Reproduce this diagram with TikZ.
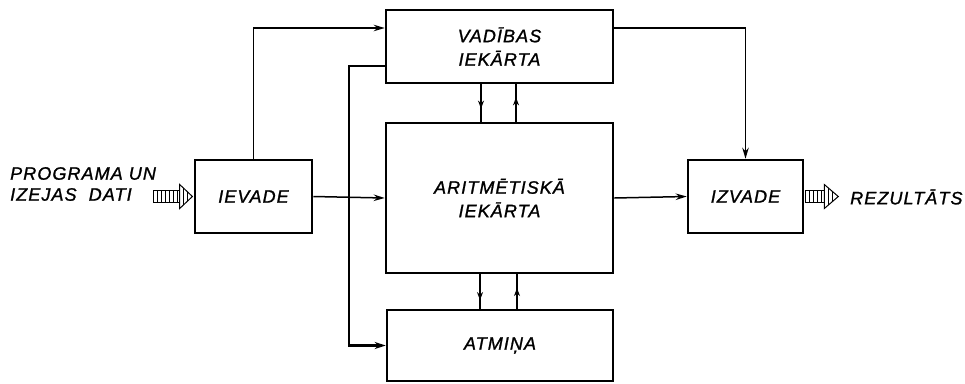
\documentclass[tikz,border=0pt]{standalone}
\usepackage{fontspec}
\newfontfamily\lbl{Liberation Sans}[LetterSpace=6,FakeBold=1.2]
\usetikzlibrary{arrows.meta,decorations.markings}
\begin{document}
\begin{tikzpicture}[x=1pt,y=-1pt,
  blk/.style={draw,line width=2.6pt,inner sep=0pt,align=center,
     font=\fontsize{18}{23.5}\selectfont\lbl\itshape},
  lbltext/.style={inner sep=0pt,font=\fontsize{18}{21}\selectfont\lbl\itshape},
  conn/.style={line width=1.5pt,-{Stealth[length=11pt,width=6.5pt]}},
  connthick/.style={line width=2.4pt,-{Stealth[length=11pt,width=7pt]}},
  midarrow/.style={postaction={decorate},decoration={markings,
     mark=at position #1 with {\arrow{Stealth[length=8pt,width=6pt]}}}},
  hatch/.style={line width=1pt}]
\useasboundingbox (0,0) rectangle (965,383);
% blocks
\node[blk,minimum width=227pt,minimum height=73pt] (vad) at (499.5,46.5) {VAD\=IBAS\\IEK\=ARTA};
\node[blk,minimum width=227pt,minimum height=150pt] (arit) at (499.5,198) {ARITM\=ETISK\=A\\IEK\=ARTA};
\node[blk,minimum width=226pt,minimum height=71pt] (atm) at (500,345.5) {ATMI\c{N}A};
\node[blk,minimum width=117pt,minimum height=73pt] (iev) at (253.5,196.5) {IEVADE};
\node[blk,minimum width=115pt,minimum height=73pt] (izv) at (745.5,196.5) {IZVADE};
% labels
\node[lbltext,align=left,anchor=west] (inp) at (10,184) {PROGRAMA UN\\IZEJAS\ \ DATI};
\node[lbltext,anchor=west] (res) at (850,197) {REZULT\=ATS};
% helper coordinates
\coordinate (rowA) at (0,28);
\coordinate (rowB) at (0,66);
\coordinate (colV) at (349,0);
\coordinate (c1) at (481,0);
\coordinate (c2) at (516,0);
\coordinate (c3) at (480,0);
\coordinate (c4) at (517,0);
% connectors
\draw[conn] (iev.north) |- (vad.west |- rowA);
\draw[conn] (vad.east |- rowA) -| (izv.north);
\draw[connthick] (vad.west |- rowB) -| (colV |- atm.west) -- (atm.west);
\draw[conn] (iev.east) -- (arit.west);
\draw[conn] (arit.east) -- (izv.west);
\draw[line width=1.5pt,midarrow=0.65] (vad.south -| c1) -- (arit.north -| c1);
\draw[line width=1.5pt,midarrow=0.65] (arit.north -| c2) -- (vad.south -| c2);
\draw[line width=2.4pt,midarrow=0.75] (arit.south -| c3) -- (atm.north -| c3);
\draw[line width=2.4pt,midarrow=0.6] (atm.north -| c4) -- (arit.south -| c4);
% hatched input arrow
\begin{scope}[shift={(iev.west)},hatch]
  \draw (-40,-6) rectangle (-14,6);
  \foreach \x in {-36,-32,...,-16} \draw (\x,-6) -- (\x,6);
  \draw (-14,-12) -- (-1.3,0) -- (-14,12) -- cycle;
  \draw (-10,-8.2) -- (-10,8.2);
  \draw (-6,-4.4) -- (-6,4.4);
\end{scope}
% hatched output arrow
\begin{scope}[shift={(izv.east)},hatch]
  \draw (1.3,-6) rectangle (20,6);
  \foreach \x in {5,9,...,17} \draw (\x,-6) -- (\x,6);
  \draw (20,-12) -- (34,0) -- (20,12) -- cycle;
  \draw (24,-8.6) -- (24,8.6);
  \draw (28,-5.1) -- (28,5.1);
\end{scope}
\end{tikzpicture}
\end{document}
